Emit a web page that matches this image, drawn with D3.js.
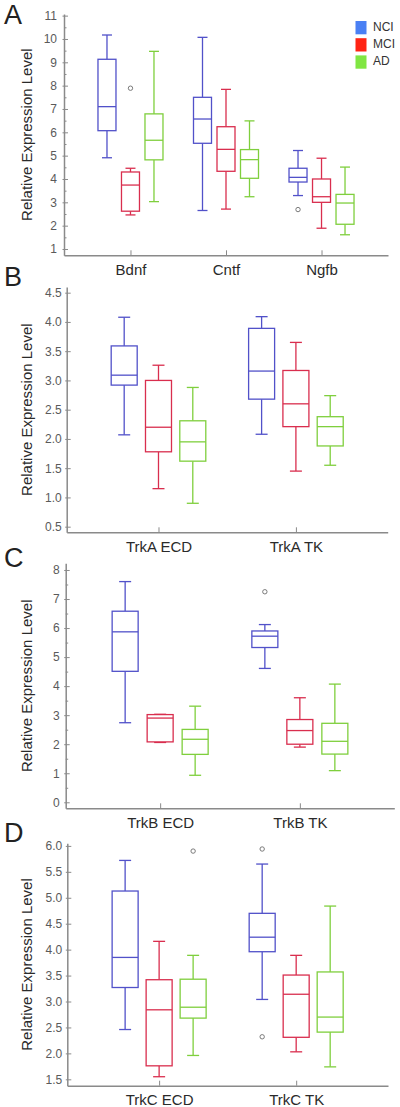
<!DOCTYPE html>
<html>
<head>
<meta charset="utf-8">
<script src="https://cdn.jsdelivr.net/npm/d3@7"></script>
<style>
  html, body { margin: 0; padding: 0; background: #fff; }
  svg { display: block; font-family: "Liberation Sans", Arial, sans-serif; }
</style>
</head>
<body>
<svg id="chart" width="400" height="1107"></svg>
<script>
// ---------------- DATA ----------------
const groups = ["NCI", "MCI", "AD"];
const groupColors = ["#5151c9", "#d92e4e", "#7fcf3d"];
const legendColors = ["#4a80f4", "#ff2414", "#80e642"];

// each summary: [lowWhisker, Q1, median, Q3, highWhisker]
const aCategories = ["Bdnf", "Cntf", "Ngfb"];
const aNCI = [[4.91, 6.07, 7.10, 9.13, 10.17], [2.65, 5.53, 6.57, 7.50, 10.07], [3.29, 3.87, 4.07, 4.46, 5.22]];
const aMCI = [[2.46, 2.62, 3.74, 4.30, 4.46], [2.71, 4.33, 5.27, 6.24, 7.84], [1.89, 3.00, 3.24, 4.00, 4.89]];
const aAD  = [[3.03, 4.82, 5.66, 6.79, 9.47], [3.24, 4.03, 4.83, 5.26, 6.49], [1.61, 2.06, 2.97, 3.34, 4.51]];
const aOutliers = [["Bdnf", "MCI", 7.89], ["Ngfb", "NCI", 2.69]];
const aTicks = [1, 2, 3, 4, 5, 6, 7, 8, 9, 10, 11];

const bCategories = ["TrkA ECD", "TrkA TK"];
const bNCI = [[2.07, 2.92, 3.09, 3.59, 4.08], [2.08, 2.68, 3.16, 3.89, 4.09]];
const bMCI = [[1.15, 1.78, 2.20, 3.00, 3.26], [1.45, 2.21, 2.60, 3.17, 3.65]];
const bAD  = [[0.90, 1.62, 1.95, 2.31, 2.88], [1.55, 1.88, 2.21, 2.38, 2.74]];
const bOutliers = [];
const bTicks = [0.5, 1.0, 1.5, 2.0, 2.5, 3.0, 3.5, 4.0, 4.5];

const cCategories = ["TrkB ECD", "TrkB TK"];
const cNCI = [[2.74, 4.51, 5.87, 6.58, 7.60], [4.61, 5.33, 5.72, 5.90, 6.12]];
const cMCI = [[2.06, 2.08, 2.90, 3.02, 3.03], [1.90, 2.00, 2.47, 2.85, 3.60]];
const cAD  = [[0.93, 1.65, 2.17, 2.51, 3.31], [1.09, 1.66, 2.10, 2.72, 4.07]];
const cOutliers = [["TrkB TK", "NCI", 7.25]];
const cTicks = [0, 1, 2, 3, 4, 5, 6, 7, 8];

const dCategories = ["TrkC ECD", "TrkC TK"];
const dNCI = [[2.46, 3.27, 3.85, 5.13, 5.72], [3.04, 3.96, 4.24, 4.70, 5.65]];
const dMCI = [[1.55, 1.76, 2.84, 3.42, 4.16], [2.03, 2.31, 3.14, 3.51, 3.89]];
const dAD  = [[1.96, 2.68, 2.89, 3.43, 3.89], [1.74, 2.41, 2.70, 3.57, 4.84]];
const dOutliers = [["TrkC ECD", "AD", 5.90], ["TrkC TK", "NCI", 5.94], ["TrkC TK", "NCI", 2.32]];
const dTicks = [1.5, 2.0, 2.5, 3.0, 3.5, 4.0, 4.5, 5.0, 5.5, 6.0];

const yLabel = "Relative Expression Level";

// ---------------- LAYOUT ----------------
const panels = [
  { letter: "A", letterY: 24, cats: aCategories, series: [aNCI, aMCI, aAD], outliers: aOutliers,
    ticks: aTicks, fmt: d3.format("d"), minorStep: 0.5, tickPad: 7,
    left: 64, right: 388, top: 14, bottom: 255.3, pad: 0.696,
    domain: [0.73, 11.07], groupOff: 23.5, boxW: 18, capW: 10 },
  { letter: "B", letterY: 286, cats: bCategories, series: [bNCI, bMCI, bAD], outliers: bOutliers,
    ticks: bTicks, fmt: d3.format(".1f"), minorStep: null, tickPad: 5,
    left: 66.7, right: 387.7, top: 287, bottom: 532.3, pad: 0.668,
    domain: [0.404, 4.597], groupOff: 34.3, boxW: 26, capW: 12 },
  { letter: "C", letterY: 567, cats: cCategories, series: [cNCI, cMCI, cAD], outliers: cOutliers,
    ticks: cTicks, fmt: d3.format("d"), minorStep: 0.5, tickPad: 6,
    left: 65.7, right: 394.3, top: 563.3, bottom: 808.3, pad: 0.676,
    domain: [-0.207, 8.23], groupOff: 35, boxW: 26, capW: 12 },
  { letter: "D", letterY: 842, cats: dCategories, series: [dNCI, dMCI, dAD], outliers: dOutliers,
    ticks: dTicks, fmt: d3.format(".1f"), minorStep: null, tickPad: 5,
    left: 67.3, right: 388, top: 843.3, bottom: 1085.7, pad: 0.67,
    domain: [1.377, 6.05], groupOff: 34, boxW: 26, capW: 12 }
];

const svg = d3.select("#chart");
svg.append("rect").attr("width", 400).attr("height", 1107).attr("fill", "#fff");

const axisColor = "#8a8a8a";
const tickTextColor = "#5a5a5a";

panels.forEach(p => {
  const g = svg.append("g");
  const x = d3.scalePoint().domain(p.cats).range([p.left, p.right]).padding(p.pad);
  const gx = d3.scalePoint().domain(groups).range([-p.groupOff, p.groupOff]);
  const y = d3.scaleLinear().domain(p.domain).range([p.bottom, p.top]);

  // panel letter
  g.append("text").attr("x", 4).attr("y", p.letterY)
    .attr("font-size", 27).attr("fill", "#222").text(p.letter);

  // minor ticks
  if (p.minorStep) {
    const minor = d3.range(Math.ceil(p.domain[0] / p.minorStep) * p.minorStep, p.domain[1], p.minorStep)
      .filter(v => Math.abs(v - Math.round(v)) > 1e-6);
    const mAx = g.append("g").attr("transform", `translate(${p.left},0)`)
      .call(d3.axisLeft(y).tickValues(minor).tickFormat("").tickSizeInner(-2.5).tickSizeOuter(0));
    mAx.select(".domain").remove();
    mAx.selectAll(".tick line").attr("stroke", axisColor);
  }

  // y axis
  const yAx = g.append("g").attr("transform", `translate(${p.left},0)`)
    .call(d3.axisLeft(y).tickValues(p.ticks).tickFormat(p.fmt).tickSizeInner(-4).tickSizeOuter(0).tickPadding(p.tickPad));
  yAx.select(".domain").attr("stroke", axisColor).attr("stroke-width", 1.5);
  yAx.selectAll(".tick line").attr("stroke", axisColor).attr("x1", -1.5);
  yAx.selectAll(".tick text").attr("fill", tickTextColor).attr("font-size", 12)
    .attr("font-family", "'Liberation Sans', Arial, sans-serif");

  // x axis
  const xAx = g.append("g").attr("transform", `translate(0,${p.bottom})`)
    .call(d3.axisBottom(x).tickSizeInner(-5).tickSizeOuter(0).tickPadding(9));
  xAx.select(".domain").attr("stroke", axisColor).attr("stroke-width", 1.5);
  xAx.selectAll(".tick line").attr("stroke", axisColor);
  xAx.selectAll(".tick text").attr("fill", "#2a2a2a").attr("font-size", 15)
    .attr("font-family", "'Liberation Sans', Arial, sans-serif");

  // y label
  g.append("text")
    .attr("transform", `translate(31.5,${(p.top + p.bottom) / 2}) rotate(-90)`)
    .attr("text-anchor", "middle").attr("font-size", 15).attr("fill", "#2a2a2a")
    .text(yLabel);

  // boxes
  groups.forEach((grp, gi) => {
    const col = groupColors[gi];
    p.series[gi].forEach((s, ci) => {
      const cx = x(p.cats[ci]) + gx(grp);
      const [lo, q1, med, q3, hi] = s;
      const bg = g.append("g").attr("stroke", col).attr("stroke-width", 1.3).attr("fill", "none");
      bg.append("line").attr("x1", cx).attr("x2", cx).attr("y1", y(hi)).attr("y2", y(q3));
      bg.append("line").attr("x1", cx).attr("x2", cx).attr("y1", y(q1)).attr("y2", y(lo));
      bg.append("line").attr("x1", cx - p.capW / 2).attr("x2", cx + p.capW / 2).attr("y1", y(hi)).attr("y2", y(hi));
      bg.append("line").attr("x1", cx - p.capW / 2).attr("x2", cx + p.capW / 2).attr("y1", y(lo)).attr("y2", y(lo));
      bg.append("rect").attr("x", cx - p.boxW / 2).attr("width", p.boxW)
        .attr("y", y(q3)).attr("height", y(q1) - y(q3)).attr("fill", "#fff");
      bg.append("line").attr("x1", cx - p.boxW / 2).attr("x2", cx + p.boxW / 2).attr("y1", y(med)).attr("y2", y(med));
    });
  });

  // outliers
  p.outliers.forEach(([cat, grp, v]) => {
    g.append("circle").attr("cx", x(cat) + gx(grp)).attr("cy", y(v)).attr("r", 2.2)
      .attr("fill", "none").attr("stroke", "#7a7a7a").attr("stroke-width", 1);
  });
});

// legend
const leg = svg.append("g");
groups.forEach((grp, i) => {
  const yy = 21 + i * 17.2;
  leg.append("rect").attr("x", 355.5).attr("y", yy).attr("width", 11).attr("height", 13.3)
    .attr("fill", legendColors[i]);
  leg.append("text").attr("x", 373).attr("y", yy + 9.5).attr("font-size", 12)
    .attr("fill", "#333").text(grp);
});
</script>
</body>
</html>
